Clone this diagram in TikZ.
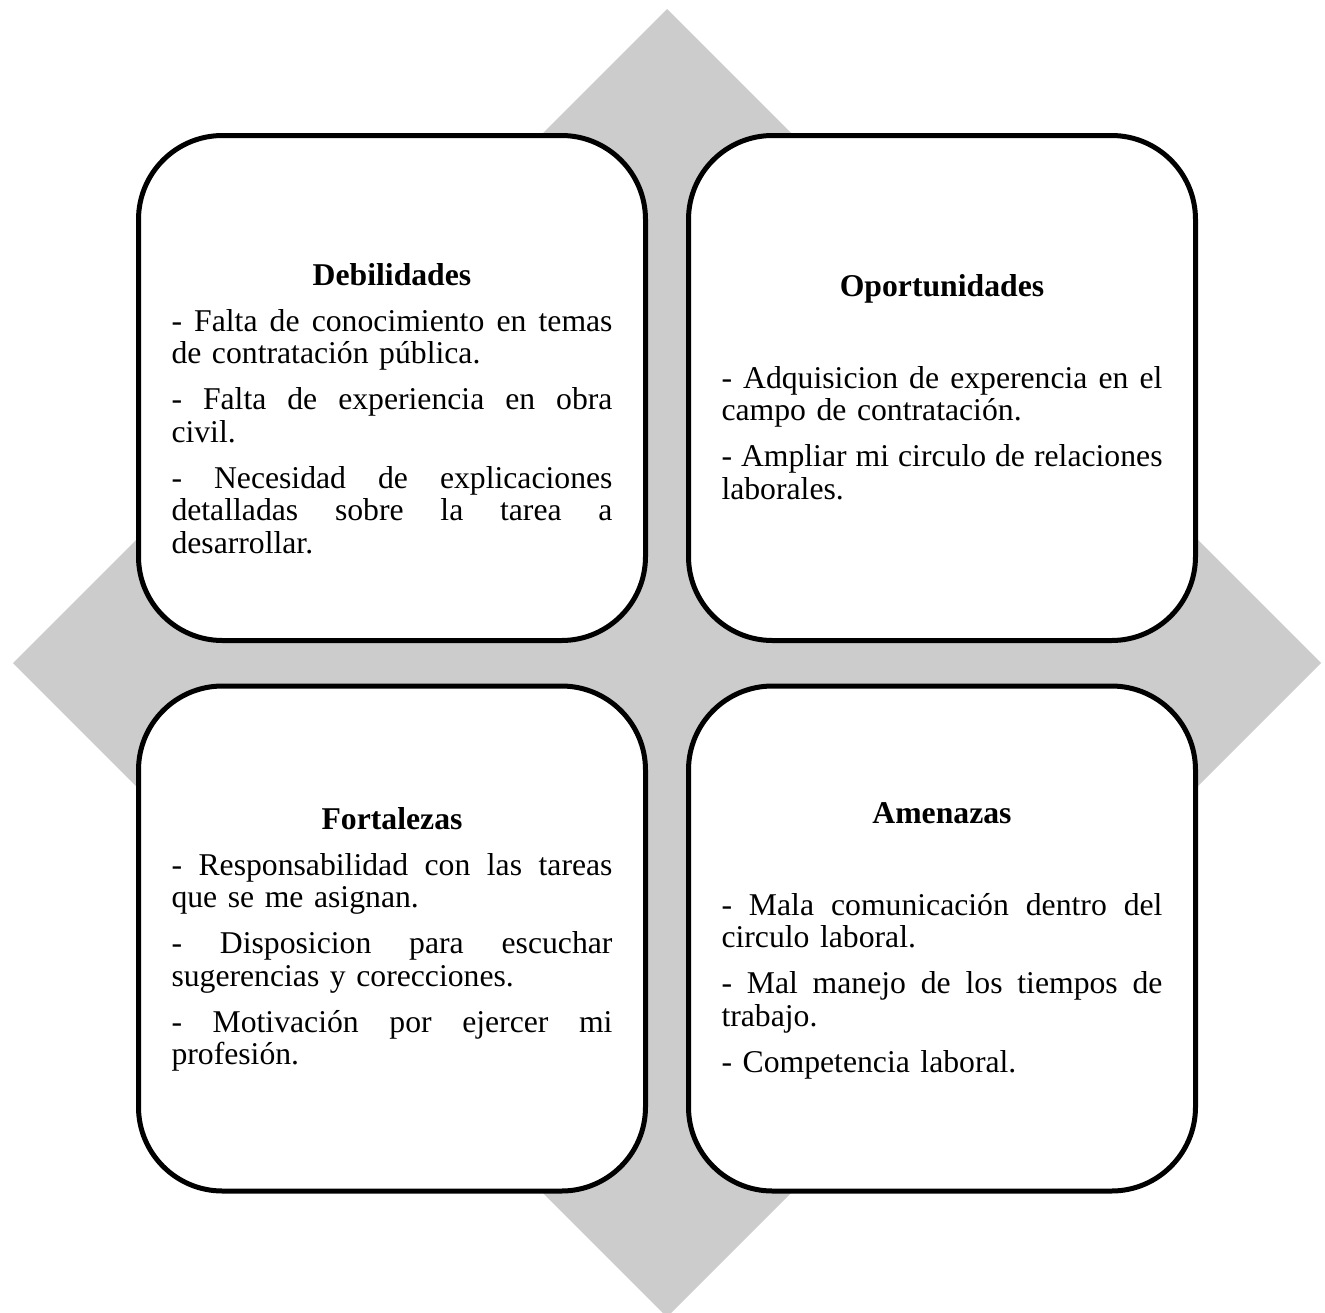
\documentclass[tikz,border=0pt]{standalone}
\usepackage{fontspec}
\setmainfont{Liberation Serif}
\definecolor{diamondgray}{RGB}{204,204,204}
\newcommand{\jl}[1]{\leavevmode\hbox to 441pt{#1}}
\newcommand{\g}{\hfill}
\newcommand{\ttl}[1]{{\centering\bfseries #1\par}}
\newcommand{\bodysetup}{\setlength{\parskip}{13.5pt}\setlength{\parindent}{0pt}}
\tikzset{
  quad/.style={draw=black, line width=5pt, fill=white, rounded corners=84pt,
    minimum width=507pt, minimum height=505pt, inner sep=0pt},
  body/.style={anchor=base, text width=441pt, inner sep=0pt,
    font=\fontsize{31.7}{32.5}\selectfont},
}
\begin{document}
\begin{tikzpicture}[x=1pt,y=-1pt]
\useasboundingbox (0,0) rectangle (1325,1312);
\begin{scope}
\clip (0,0) rectangle (1325,1312);
\fill[diamondgray] (667,9) -- (1321,663) -- (667,1317) -- (13,663) -- cycle;
\end{scope}

\node[quad] (deb) at (392,388) {};
\node[quad] (opo) at (942,388) {};
\node[quad] (fort) at (392,938.5) {};
\node[quad] (amen) at (942,938.5) {};

\node[body] (debtext) at (392,285) {\bodysetup
\ttl{Debilidades}
\jl{-\g Falta\g de\g conocimiento\g en\g temas}\newline de contratación pública.\par
\jl{-\g Falta\g de\g experiencia\g en\g obra}\newline civil.\par
\jl{-\g Necesidad\g de\g explicaciones}\newline\jl{detalladas\g sobre\g la\g tarea\g a}\newline desarrollar.\par};

\node[body] (opotext) at (942,296) {\bodysetup
\ttl{Oportunidades}
\mbox{}\par
\jl{-\g Adquisicion\g de\g experencia\g en\g el}\newline campo de contratación.\par
\jl{-\g Ampliar\g mi\g circulo\g de\g relaciones}\newline laborales.\par};

\node[body] (forttext) at (392,829) {\bodysetup
\ttl{Fortalezas}
\jl{-\g Responsabilidad\g con\g las\g tareas}\newline que se me asignan.\par
\jl{-\g Disposicion\g para\g escuchar}\newline sugerencias y corecciones.\par
\jl{-\g Motivación\g por\g ejercer\g mi}\newline profesión.\par};

\node[body] (amentext) at (942,823) {\bodysetup
\ttl{Amenazas}
\mbox{}\par
\jl{-\g Mala\g comunicación\g dentro\g del}\newline circulo laboral.\par
\jl{-\g Mal\g manejo\g de\g los\g tiempos\g de}\newline trabajo.\par
- Competencia laboral.\par};
\end{tikzpicture}
\end{document}
